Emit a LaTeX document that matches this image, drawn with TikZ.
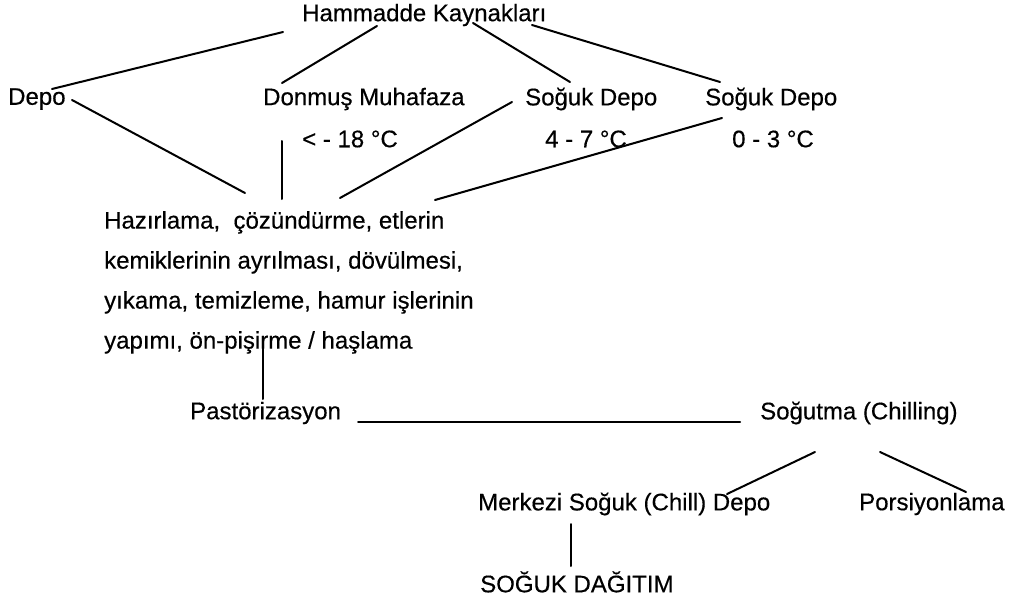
\documentclass[tikz,border=0pt]{standalone}
\usepackage{fontspec}
\setmainfont{Liberation Sans}[FakeBold=0.4]
\usetikzlibrary{calc}
\begin{document}
\begin{tikzpicture}[x=1pt,y=-1pt,
  lbl/.style={inner sep=0pt, anchor=west, font=\fontsize{24}{28}\selectfont},
  conn/.style={line width=2pt, line cap=round}]
\useasboundingbox (0,0) rectangle (1009,602);
% nodes
\node[lbl] (H) at (302,15) {Hammadde Kaynakları};
\node[lbl] (Depo) at (8,99) {Depo};
\node[lbl] (Don) at (263,99) {Donmuş Muhafaza};
\node[lbl] (T18) at (302,139) {< - 18 °C};
\node[lbl] (S1) at (525,99) {Soğuk Depo};
\node[lbl] (T47) at (545,139) {4 - 7 °C};
\node[lbl] (S2) at (705,99) {Soğuk Depo};
\node[lbl] (T03) at (732,139) {0 - 3 °C};
\node[lbl, anchor=north west, align=left, font=\fontsize{24}{40}\selectfont] (Para) at (104,211)
  {Hazırlama,\ \ çözündürme, etlerin\\kemiklerinin ayrılması, dövülmesi,\\yıkama, temizleme, hamur işlerinin\\yapımı, ön-pişirme / haşlama};
\node[lbl] (Past) at (190,413) {Pastörizasyon};
\node[lbl] (Sog) at (760,413) {Soğutma (Chilling)};
\node[lbl] (Merk) at (478,504) {Merkezi Soğuk (Chill) Depo};
\node[lbl] (Pors) at (859,504) {Porsiyonlama};
\node[lbl] (SD) at (480,582) {SOĞUK DAĞITIM};
% connector ends
\coordinate (hA) at (283,32);  \coordinate (dA) at (52,89);
\coordinate (hB) at (377,26);  \coordinate (dB) at (282,83);
\coordinate (hC) at (473,23);  \coordinate (sC) at (570,82);
\coordinate (hD) at (532,25);  \coordinate (sD) at (720,82);
\coordinate (dE) at (72,100);  \coordinate (pE) at (245,193);
\coordinate (tF) at (282,141); \coordinate (pF) at (282,199);
\coordinate (sG) at (512,102); \coordinate (pG) at (340,198);
\coordinate (sH) at (722,118); \coordinate (pH) at (435,200);
\coordinate (pI) at (263,342); \coordinate (qI) at (263,399);
\coordinate (qJ) at (358,422); \coordinate (gJ) at (740,422);
\coordinate (gK) at (815,452); \coordinate (mK) at (727,494);
\coordinate (gL) at (880,452); \coordinate (rL) at (966,492);
\coordinate (mM) at (571,524); \coordinate (sM) at (571,566);
% connectors
\draw[conn] (hA) -- (dA);
\draw[conn] (hB) -- (dB);
\draw[conn] (hC) -- (sC);
\draw[conn] (hD) -- (sD);
\draw[conn] (dE) -- (pE);
\draw[conn] (tF) -- (pF);
\draw[conn] (sG) -- (pG);
\draw[conn] (sH) -- (pH);
\draw[conn] (pI) -- (qI);
\draw[conn] (qJ) -- (gJ);
\draw[conn] (gK) -- (mK);
\draw[conn] (gL) -- (rL);
\draw[conn] (mM) -- (sM);
\end{tikzpicture}
\end{document}
